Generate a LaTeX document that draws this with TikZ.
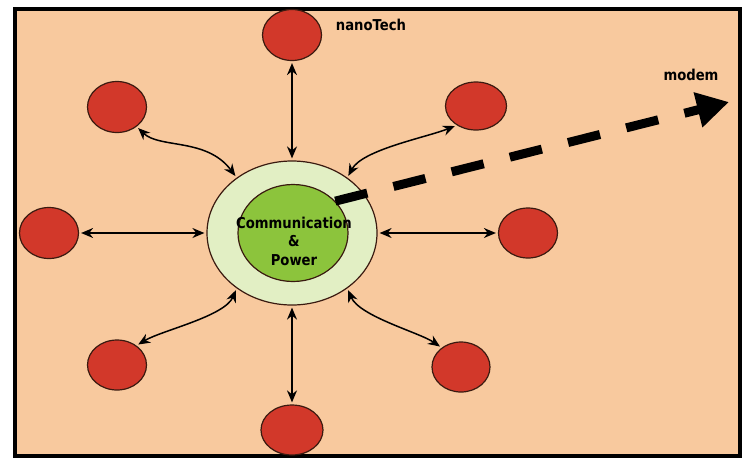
\documentclass[tikz,border=0pt]{standalone}
\usepackage{fontspec}
\newfontfamily\lblfont[FakeStretch=0.88]{DejaVu Sans}
\usetikzlibrary{arrows.meta,shapes.geometric}
\definecolor{peach}{HTML}{F8C99E}
\definecolor{devred}{HTML}{D2382A}
\definecolor{devedge}{HTML}{3A1A10}
\definecolor{palegreen}{HTML}{E2EFC4}
\definecolor{hubgreen}{HTML}{8CC43C}
\tikzset{
  dev/.style={ellipse, draw=devedge, line width=1.2pt, fill=devred, minimum width=59pt, minimum height=51pt, inner sep=0pt},
  link/.style={line width=1.5pt, {Stealth[length=12pt,width=10pt]}-{Stealth[length=12pt,width=10pt]}, shorten <=2pt, shorten >=2pt},
  lbl/.style={font=\lblfont\bfseries\fontsize{15}{18.5}\selectfont, inner sep=0pt, align=center},
  bigdash/.style={line width=9pt, dash pattern=on 33pt off 27pt, -{Triangle[length=32pt,width=34pt]}}
}
\begin{document}
\begin{tikzpicture}[x=1pt,y=1pt]
\useasboundingbox (0,0) rectangle (743,-461);
\fill[white] (0,0) rectangle (743,-461);
\draw[line width=3.5pt, fill=peach] (15,-9) rectangle (740,-456);

% hub
\node[ellipse, draw=devedge, line width=1.2pt, fill=palegreen, minimum width=170pt, minimum height=144pt, inner sep=0pt] (hubO) at (292,-233) {};
\node[ellipse, draw=devedge, line width=1.2pt, fill=hubgreen, minimum width=110pt, minimum height=97pt, inner sep=0pt] (hubI) at (293,-233) {};
\node[lbl] (hubtxt) at (294,-241) {Communication\\\&\\Power};

% devices
\node[dev] (t)  at (292,-35)  {};
\node[dev] (ul) at (117,-107) {};
\node[dev, minimum width=61pt, minimum height=48pt] (ur) at (476,-106) {};
\node[dev] (l)  at (49,-233)  {};
\node[dev, minimum height=50pt] (r)  at (528,-233) {};
\node[dev, minimum height=50pt] (ll) at (117,-365) {};
\node[dev, minimum width=58pt, minimum height=50pt] (lr) at (461,-367) {};
\node[dev, minimum width=62pt, minimum height=50pt] (b)  at (292,-430) {};

% labels
\node[lbl] (nanolbl) at (371,-25) {nanoTech};
\node[lbl] (modlbl) at (691,-75) {modem};

% straight links
\draw[link] (t) -- (hubO);
\draw[link] (hubO) -- (b);
\draw[link] (l) -- (hubO);
\draw[link] (hubO) -- (r);

% curved links
\draw[link] (ul.-45) .. controls +(23,-22) and +(-30,40) .. (hubO.135);
\draw[link] (hubO.45) .. controls +(15,28) and +(-30,-12) .. (ur.-135);
\draw[link] (hubO.-135) .. controls +(-12,-28) and +(25,15) .. (ll.45);
\draw[link] (hubO.-45) .. controls +(12,-28) and +(-22,15) .. (lr.135);

% dashed arrow
\coordinate (mtip) at (729,-102);
\draw[bigdash] (hubI.37) -- (mtip);
\end{tikzpicture}
\end{document}
